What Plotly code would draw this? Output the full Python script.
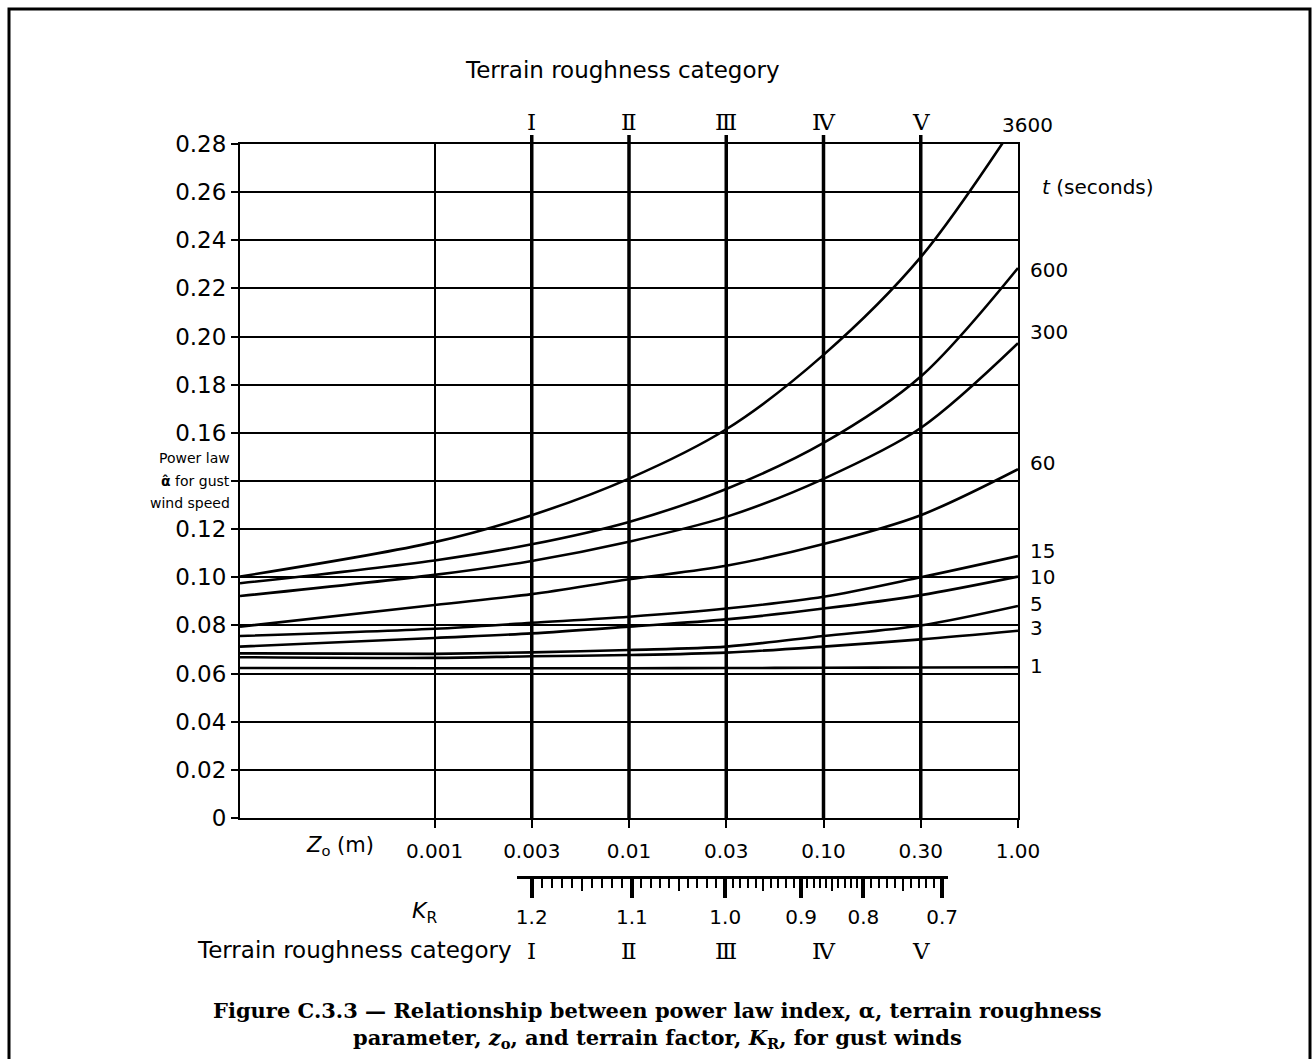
import numpy as np
import plotly.graph_objects as go

# ---------------------------------------------------------------- data ----
# z0 (m) columns of the grid, one half-decade step apart; the unlabelled
# left edge of the grid lies two steps below 0.001
z0_ticks = ["0.001", "0.003", "0.01", "0.03", "0.10", "0.30", "1.00"]

# power-law index alpha for each gust duration t (s):
# value at the left edge, then at each z0 column above
alpha_3600 = [0.1003, 0.1146, 0.1258, 0.1410, 0.1615, 0.1924, 0.2330, 0.2900]
alpha_600 = [0.0975, 0.1070, 0.1137, 0.1230, 0.1367, 0.1558, 0.1834, 0.2285]
alpha_300 = [0.0922, 0.1010, 0.1068, 0.1148, 0.1251, 0.1409, 0.1620, 0.1972]
alpha_60 = [0.0795, 0.0885, 0.0930, 0.0992, 0.1048, 0.1138, 0.1258, 0.1449]
alpha_15 = [0.0756, 0.0786, 0.0811, 0.0836, 0.0870, 0.0919, 0.1000, 0.1088]
alpha_10 = [0.0712, 0.0748, 0.0767, 0.0795, 0.0825, 0.0870, 0.0926, 0.1003]
alpha_5 = [0.0684, 0.0682, 0.0688, 0.0698, 0.0712, 0.0756, 0.0800, 0.0881]
alpha_3 = [0.0668, 0.0665, 0.0672, 0.0677, 0.0687, 0.0712, 0.0742, 0.0778]
alpha_1 = [0.0623, 0.0622, 0.0622, 0.0622, 0.0623, 0.0624, 0.0625, 0.0626]

durations = ["3600", "600", "300", "60", "15", "10", "5", "3", "1"]

# y axis (the 0.14 position carries the axis caption instead of a number)
alpha_ticks = [0, 0.02, 0.04, 0.06, 0.08, 0.10, 0.12, 0.14, 0.16, 0.18,
               0.20, 0.22, 0.24, 0.26, 0.28]
alpha_tick_text = ["0", "0.02", "0.04", "0.06", "0.08", "0.10", "0.12", "",
                   "0.16", "0.18", "0.20", "0.22", "0.24", "0.26", "0.28"]

# terrain roughness categories and the z0 column each one sits on
categories = ["Ⅰ", "Ⅱ", "Ⅲ", "Ⅳ", "Ⅴ"]
category_z0 = ["0.003", "0.01", "0.03", "0.10", "0.30"]

# terrain factor K_R scale: labelled values and where they fall along the
# z0 grid (in column steps)
kr_major = [1.2, 1.1, 1.0, 0.9, 0.8, 0.7]
kr_major_step = [3.00, 4.03, 4.99, 5.77, 6.41, 7.22]

# ------------------------------------------------------------- helpers ----
W, H = 1314, 1059
PL, PR, PT, PB = 240, 1018, 144, 818      # plot area in pixels
PAPER_B = 960                              # bottom of the paper area
N_STEPS = 8


def fx(px):
    return (px - PL) / (PR - PL)


def fy(py):
    return (PAPER_B - py) / (PAPER_B - PT)


edge_step = 0
col_step = {lab: i + 2 for i, lab in enumerate(z0_ticks)}
x_steps = [edge_step] + [col_step[t] for t in z0_ticks]

series = dict(zip(durations, [alpha_3600, alpha_600, alpha_300, alpha_60,
                              alpha_15, alpha_10, alpha_5, alpha_3, alpha_1]))

# K_R minor (0.01) and medium (0.05) ticks placed within each labelled interval
kr_sorted = kr_major[::-1]
step_sorted = kr_major_step[::-1]
kr_minor_vals = np.round(np.arange(0.70, 1.2001, 0.01), 2)
kr_mid_vals = np.round(np.arange(0.75, 1.2, 0.1), 2)
kr_minor_step = np.interp(kr_minor_vals, kr_sorted, step_sorted)
kr_mid_step = np.interp(kr_mid_vals, kr_sorted, step_sorted)
kr_ends = [kr_major_step[0] - 0.155, kr_major_step[-1] + 0.065]

FONT = "DejaVu Sans"
NUMERAL_FONT = "DejaVu Serif"
CAPTION_FONT = "DejaVu Serif"

# ---------------------------------------------------------------- figure --
fig = go.Figure()

for name in durations:
    fig.add_trace(go.Scatter(
        x=x_steps, y=series[name], mode="lines", name=name,
        line=dict(color="black", width=2.6, shape="spline", smoothing=0.9),
        showlegend=False, hoverinfo="skip"))

# empty traces that bring the K_R scale axes into the figure
for ax in ["x2", "x3"]:
    fig.add_trace(go.Scatter(x=[kr_major_step[0]], y=[None], xaxis=ax, yaxis="y",
                             mode="lines", showlegend=False, hoverinfo="skip"))

y_dom0 = fy(PB)
kr_pos = fy(877)
kr_domain = [kr_ends[0] / N_STEPS, kr_ends[1] / N_STEPS]

fig.update_layout(
    width=W, height=H,
    margin=dict(l=PL, r=W - PR, t=PT, b=H - PAPER_B, pad=0),
    paper_bgcolor="white", plot_bgcolor="rgba(0,0,0,0)",
    font=dict(family=FONT, color="black", size=21),
    xaxis=dict(
        range=[0, N_STEPS], domain=[0, 1], anchor="y",
        tickmode="array", tickvals=[col_step[t] for t in z0_ticks], ticktext=z0_ticks,
        ticks="outside", ticklen=8, tickwidth=2, tickcolor="black",
        ticklabelstandoff=6,
        showgrid=True, gridcolor="black", gridwidth=2,
        showline=True, linecolor="black", linewidth=2, mirror=True,
        zeroline=False, tickfont=dict(size=20)),
    yaxis=dict(
        range=[0, 0.28], domain=[y_dom0, 1], anchor="x",
        tickmode="array", tickvals=alpha_ticks, ticktext=alpha_tick_text,
        ticks="outside", ticklen=7, tickwidth=2, tickcolor="black",
        showgrid=True, gridcolor="black", gridwidth=2,
        showline=True, linecolor="black", linewidth=2, mirror=True,
        zeroline=False, tickfont=dict(size=23)),
    xaxis2=dict(
        range=kr_ends, domain=kr_domain, anchor="free", position=kr_pos,
        side="bottom", tickmode="array", tickvals=kr_major_step,
        ticktext=[f"{v:.1f}" for v in kr_major],
        ticks="outside", ticklen=19, tickwidth=4, tickcolor="black",
        minor=dict(tickmode="array", tickvals=list(kr_minor_step), ticks="outside",
                   ticklen=9, tickwidth=1.5, tickcolor="black", showgrid=False),
        showgrid=False, zeroline=False,
        showline=True, linecolor="black", linewidth=3,
        tickfont=dict(size=20), ticklabelstandoff=2),
    xaxis3=dict(
        range=kr_ends, overlaying="x2", anchor="free", position=kr_pos,
        side="bottom", tickmode="array", tickvals=list(kr_mid_step),
        ticks="outside", ticklen=13, tickwidth=2, tickcolor="black",
        showticklabels=False, showgrid=False, zeroline=False, showline=False),
)

# heavier column lines for the terrain roughness categories
for z in category_z0:
    fig.add_shape(type="line", xref="x", yref="paper",
                  x0=col_step[z], x1=col_step[z], y0=fy(PB), y1=fy(135),
                  line=dict(color="black", width=3.5), layer="above")

# outer frame
fig.add_shape(type="rect", xref="paper", yref="paper",
              x0=fx(9), x1=fx(1310), y0=fy(1070), y1=fy(9),
              line=dict(color="black", width=3), layer="above")


def note(text, x, y, xref="paper", yref="paper", size=21, xanchor="center",
         yanchor="middle", **kw):
    fig.add_annotation(text=text, x=x, y=y, xref=xref, yref=yref, showarrow=False,
                       xanchor=xanchor, yanchor=yanchor,
                       font=dict(family=kw.pop("family", FONT), size=size,
                                 color="black"), **kw)


note("Terrain roughness category", fx(622), fy(70), size=23)
for cat, z in zip(categories, category_z0):
    note(cat, col_step[z], fy(122), xref="x", size=23, family=NUMERAL_FONT)
    note(cat, col_step[z], fy(951), xref="x", size=23, family=NUMERAL_FONT)
note("Terrain roughness category", fx(514), fy(950), xanchor="right", size=23)
note("<i>Z</i><sub>o</sub> (m)", fx(376), fy(846), xanchor="right")
note("<i>K</i><sub>R</sub>", fx(424), fy(912), size=22)

note("Power law", fx(232), fy(458), xanchor="right", size=14)
note("<b>α̂</b> for gust", fx(232), fy(481), xanchor="right", size=14)
note("wind speed", fx(232), fy(503), xanchor="right", size=14)

# duration labels at the right-hand ends of the curves
label_shift = {"600": -2, "300": 11, "60": 6, "15": 5, "10": 0, "5": 2, "3": 3, "1": 1}
for name in durations[1:]:
    note(name, N_STEPS, series[name][-1], xref="x", yref="y", xanchor="left",
         xshift=10, yshift=label_shift[name], size=20)
note("3600", fx(1027), fy(125), size=20)
note("<i>t</i> (seconds)", fx(1040), fy(187), xanchor="left", size=20)

note("<b>Figure C.3.3 — Relationship between power law index, α, terrain roughness</b>",
     fx(657), fy(1010), size=21, family=CAPTION_FONT)
note("<b>parameter, <i>z</i><sub>o</sub>, and terrain factor, <i>K</i><sub>R</sub>, for gust winds</b>",
     fx(657), fy(1038), size=21, family=CAPTION_FONT)

fig.write_html("out.html")
